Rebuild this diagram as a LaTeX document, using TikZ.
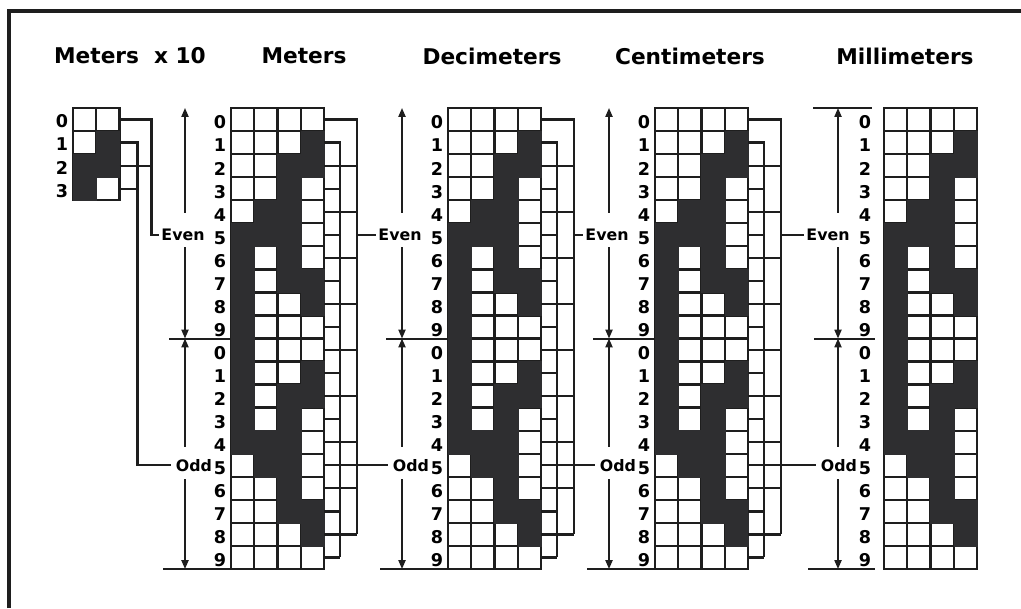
\documentclass[tikz,border=0pt]{standalone}
\usepackage{fontspec}
\setmainfont{DejaVu Sans}
\usepackage{tikz}
\usetikzlibrary{arrows.meta,positioning}
\definecolor{ink}{HTML}{1E1E1E}
\definecolor{tone}{HTML}{2E2E30}
\newcommand{\cellw}{23.3}
\newcommand{\rowh}{23.05}
\newcommand{\gridtop}{108}
% black cells of rows 0-9 (row/column); rows 10-19 mirror them
\newcommand{\blackcells}{1/4,2/3,2/4,3/3,4/2,4/3,5/1,5/2,5/3,6/1,6/3,7/1,7/3,7/4,8/1,8/4,9/1}
\tikzset{
  box/.style={draw=ink,line width=2pt,fill=white},
  blk/.style={fill=tone,draw=tone,line width=0.4pt},
  wire/.style={ink,line width=1.9pt},
  rule/.style={ink,line width=1.7pt},
  dimr/.style={ink,line width=1.4pt,-{Triangle[length=7.5pt,width=6pt]}},
  ttl/.style={font=\bfseries\fontsize{18.5}{20}\selectfont,inner sep=0pt},
  dgt/.style={font=\bfseries\fontsize{15}{15}\selectfont,inner sep=0pt},
  tag/.style={font=\bfseries\fontsize{13.5}{14}\selectfont,inner sep=1.5pt},
}

\begin{document}
\begin{tikzpicture}[x=0.03cm,y=-0.03cm]
  \useasboundingbox (0,0) rectangle (1021,608);
  \draw[ink,line width=3pt] (9,608) -- (9,11) -- (1021,11);
  % ---------- Meters x 10 ----------
  \begin{scope}[shift={(73,0)}]
    \node[ttl] (t-title) at (57,56) {Meters~ x 10};
    \foreach \r in {0,...,3} \foreach \c in {0,1}
      \draw[box] (\c*\cellw,\gridtop+\r*\rowh) rectangle ++(\cellw,\rowh);
    \foreach \r/\c in {1/2,2/1,2/2,3/1}
      \fill[blk] ({(\c-1)*\cellw},{\gridtop+\r*\rowh}) rectangle ++(\cellw,\rowh);
    \foreach \r in {0,...,3}
      \node[dgt] (t-d\r) at (-11,{\gridtop+(\r+0.5)*\rowh+2}) {\r};
    \coordinate (t-r0) at (2*\cellw,{\gridtop+0.5*\rowh});
    \coordinate (t-r1) at (2*\cellw,{\gridtop+1.5*\rowh});
    \coordinate (t-r2) at (2*\cellw,{\gridtop+2.5*\rowh});
    \coordinate (t-r3) at (2*\cellw,{\gridtop+3.5*\rowh});
    \coordinate (t-be) at (2*\cellw+32,{\gridtop+0.5*\rowh});
    \coordinate (t-bo) at (2*\cellw+18,{\gridtop+1.5*\rowh});
  \end{scope}
  % ---------- the four decade grids ----------
  \foreach \n/\gx/\lo/\tx/\ttext in {m/231/0/73/Meters, dm/448/0/44/Decimeters,
      cm/655/0/35/Centimeters, mm/884/8/21/Millimeters}{
    \begin{scope}[shift={(\gx,0)}]
      \node[ttl] (\n-title) at (\tx,56) {\ttext};
      \foreach \r in {0,...,19} \foreach \c in {0,...,3}
        \draw[box] (\c*\cellw,\gridtop+\r*\rowh) rectangle ++(\cellw,\rowh);
      \foreach \r/\c in \blackcells {
        \fill[blk] ({(\c-1)*\cellw},{\gridtop+\r*\rowh}) rectangle ++(\cellw,\rowh);
        \fill[blk] ({(\c-1)*\cellw},{\gridtop+(19-\r)*\rowh}) rectangle ++(\cellw,\rowh);
      }
      \foreach \r in {0,...,19}{
        \pgfmathtruncatemacro{\d}{mod(\r,10)}
        \node[dgt] (\n-d\r) at (-11-\lo,{\gridtop+(\r+0.5)*\rowh+3}) {\d};
      }
      \node[tag] (\n-even) at (-48-\lo,{\gridtop+5.5*\rowh}) {Even};
      \node[tag,inner xsep=4pt] (\n-odd) at (-37-\lo,{\gridtop+15.5*\rowh}) {Odd};
      \coordinate (\n-top) at (-46,\gridtop);
      \coordinate (\n-mid) at (-46,{\gridtop+10*\rowh});
      \coordinate (\n-bot) at (-46,{\gridtop+20*\rowh});
      \draw[dimr,shorten <=12pt] (\n-even.north -| \n-top) -- (\n-top);
      \draw[dimr,shorten <=4pt] (\n-even.south -| \n-top) -- (\n-mid);
      \draw[dimr,shorten <=9pt] (\n-odd.north -| \n-top) -- (\n-mid);
      \draw[dimr,shorten <=5pt] (\n-odd.south -| \n-top) -- (\n-bot);
      \draw[rule] (-62-\lo,{\gridtop+10*\rowh}) -- (-1-\lo,{\gridtop+10*\rowh});
      \draw[rule] (-68-\lo,{\gridtop+20*\rowh}) -- (-1-\lo,{\gridtop+20*\rowh});
    \end{scope}
  }
  \draw[rule] (813,\gridtop) -- (872,\gridtop);
  % ---------- even / odd buses on the right ----------
  \foreach \n/\gx in {m/231, dm/448, cm/655}{
    \begin{scope}[shift={(\gx+4*\cellw,0)}]
      \coordinate (\n-be) at (33,{\gridtop+0.5*\rowh});
      \coordinate (\n-bo) at (16,{\gridtop+1.5*\rowh});
      \draw[wire] (0,{\gridtop+0.5*\rowh}) -- (\n-be) -- (33,{\gridtop+18.5*\rowh});
      \draw[wire] (0,{\gridtop+1.5*\rowh}) -- (\n-bo) -- (16,{\gridtop+19.5*\rowh});
      \foreach \r in {2,...,19}{
        \pgfmathsetmacro{\bx}{mod(\r,2)==0 ? 33 : 16}
        \draw[wire] (0,{\gridtop+(\r+0.5)*\rowh}) -- (\bx,{\gridtop+(\r+0.5)*\rowh});
      }
    \end{scope}
  }
  % ---------- connections ----------
  \draw[wire] (t-r0) -- (t-be) |- (m-even.west);
  \draw[wire] (t-r2) -- (t-be |- t-r2);
  \draw[wire] (t-r1) -- (t-bo) |- (m-odd.west);
  \draw[wire] (t-r3) -- (t-bo |- t-r3);
  \draw[wire] (m-be |- dm-even.west) -- (dm-even.west);
  \draw[wire] (m-bo |- dm-odd.west) -- (dm-odd.west);
  \draw[wire] (dm-be |- cm-even.west) -- (cm-even.west);
  \draw[wire] (dm-bo |- cm-odd.west) -- (cm-odd.west);
  \draw[wire] (cm-be |- mm-even.west) -- (mm-even.west);
  \draw[wire] (cm-bo |- mm-odd.west) -- (mm-odd.west);
\end{tikzpicture}
\end{document}
